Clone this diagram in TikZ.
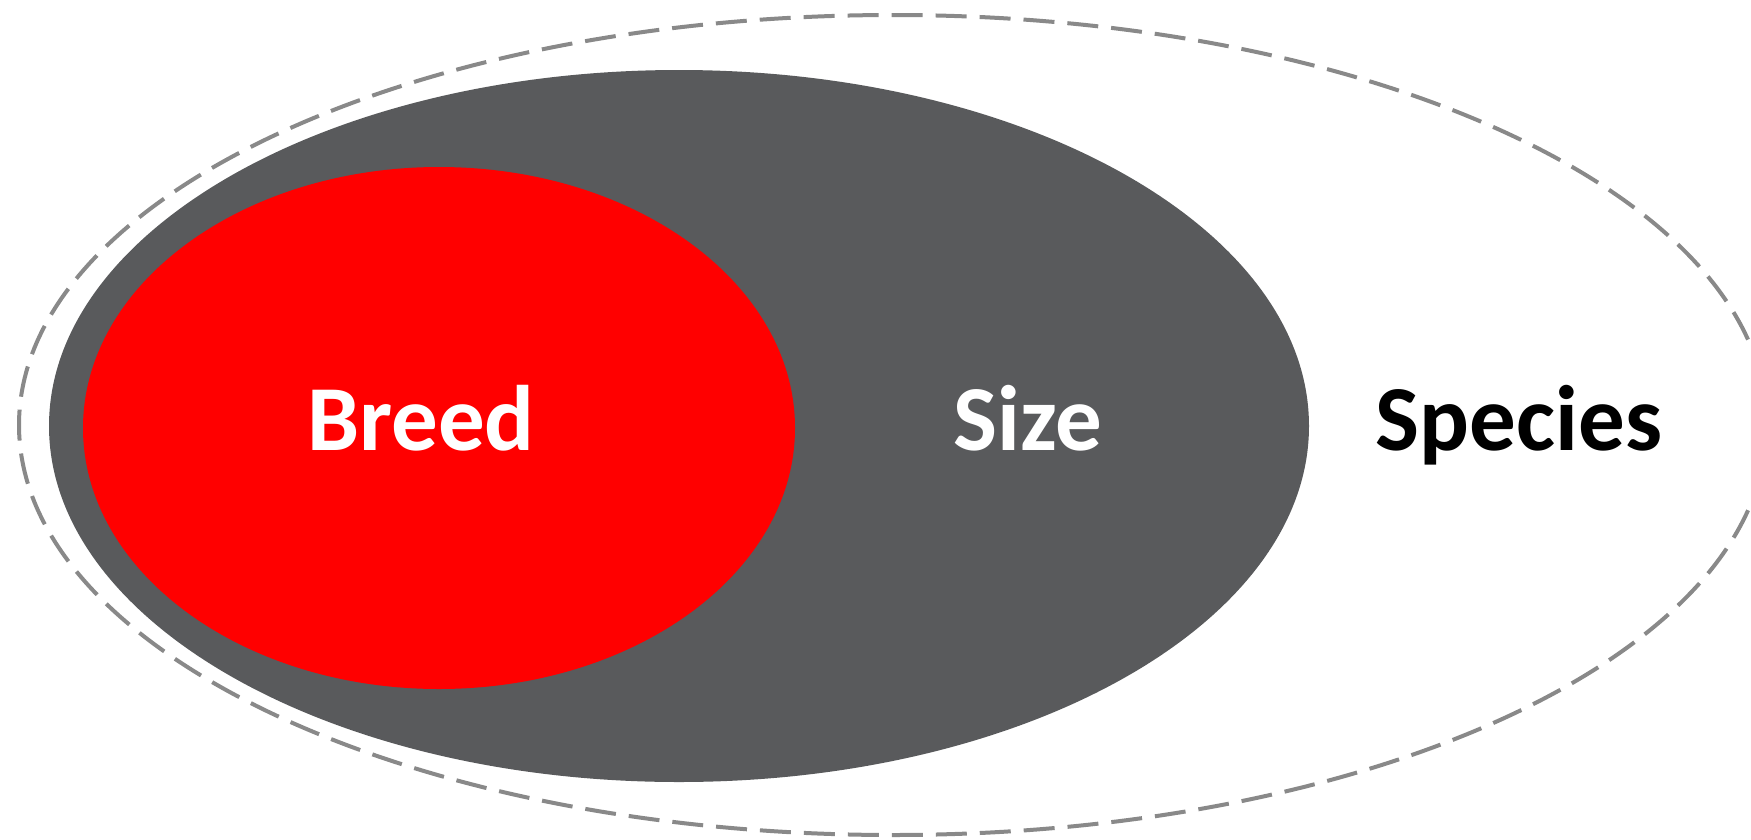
\documentclass[tikz,border=0pt]{standalone}
\usepackage{fontspec}
\setmainfont{Carlito}
\definecolor{darkfill}{HTML}{595A5C}
\definecolor{dashgray}{HTML}{898989}
\definecolor{redfill}{HTML}{FF0000}
\begin{document}
\begin{tikzpicture}[x=1pt,y=-1pt,
  lbl/.style={font=\fontsize{93}{100}\selectfont\bfseries, anchor=base, inner sep=0pt}]
\useasboundingbox (0,0) rectangle (1751,839);
\begin{scope}
\clip (0,0) rectangle (1751,839);
\draw[dashgray, line width=4, dash pattern=on 31 off 13] (893,425) ellipse [x radius=874, y radius=410];
\fill[darkfill] (679,426) ellipse [x radius=630, y radius=356];
\fill[redfill] (439,428) ellipse [x radius=356, y radius=261];
\end{scope}
\node[lbl, text=white] (breed) at (421,450) {Breed};
\node[lbl, text=white] (size) at (1028,450) {Size};
\node[lbl, text=black] (species) at (1519,450) {Species};
\end{tikzpicture}
\end{document}
